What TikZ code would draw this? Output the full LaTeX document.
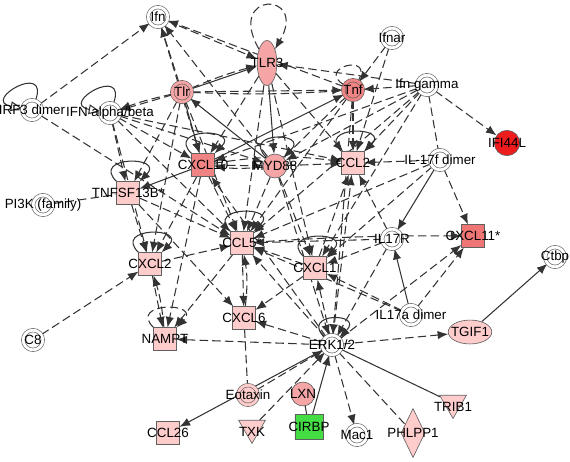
\documentclass[tikz,border=0pt]{standalone}
\usepackage{fontspec}
\setmainfont{Liberation Sans}
\usetikzlibrary{arrows.meta,positioning,shapes.geometric,shapes.misc,backgrounds}
\definecolor{pkLight}{HTML}{FFCCCC}
\definecolor{pkMid}{HTML}{F5A5A5}
\definecolor{pkDark}{HTML}{F08484}
\definecolor{pkRed}{HTML}{F07676}
\definecolor{hitRed}{HTML}{EE1C1C}
\definecolor{hitGreen}{HTML}{44DD44}
\definecolor{edgeGray}{HTML}{333333}

\begin{document}
\begin{tikzpicture}[x=0.025cm,y=0.025cm,
  >={Latex[length=7.5pt,width=6pt]},
  lbl/.style={font=\fontsize{9.5}{10}\selectfont, inner sep=0pt},
  gene/.style={draw=gray!75!black, line width=0.45pt, inner sep=0pt},
  sq/.style={gene, rectangle, fill=pkLight, minimum size=16pt},
  cir/.style={gene, circle, fill=pkMid, minimum size=17pt},
  grp/.style={gene, circle, fill=white, double=white, double distance=2pt, minimum size=14pt},
  tri/.style={gene, regular polygon, regular polygon sides=3, shape border rotate=180, fill=pkLight, minimum size=22pt},
  da/.style={draw=edgeGray, line width=0.75pt, dash pattern=on 6pt off 3pt, ->},
  dl/.style={draw=edgeGray, line width=0.75pt, dash pattern=on 6pt off 3pt},
  sa/.style={draw=edgeGray, line width=0.75pt, ->},
  sl/.style={draw=edgeGray, line width=0.75pt},
  self/.style={out=135, in=45, distance=26pt},
  openloop/.style={draw=edgeGray, line width=0.75pt, -{Triangle[open, length=8pt, width=7pt, fill=white]}}
]
\useasboundingbox (0,0) rectangle (570,-461);

% molecules
\node[grp] (Ifn) at (158,-17) [label={[lbl]center:Ifn}] {};
\node[gene, ellipse, fill=pkMid, minimum width=14pt, minimum height=32pt] (TLR3) at (267,-63) [label={[lbl]center:TLR3}] {};
\node[grp] (Ifnar) at (392,-38) [label={[lbl]center:Ifnar}] {};
\node[grp] (IRF3) at (32,-110) [label={[lbl]center:IRF3 dimer}] {};
\node[grp] (IFNab) at (110,-113) [label={[lbl]center:IFN alpha/beta}] {};
\node[grp, fill=pkMid, double=pkMid] (Tlr) at (182,-92) [label={[lbl]center:Tlr}] {};
\node[grp, fill=pkDark, double=pkDark] (Tnf) at (353,-90) [label={[lbl]center:Tnf}] {};
\node[grp] (IfnG) at (427,-85) [label={[lbl]center:Ifn gamma}] {};
\node[gene, circle, fill=hitRed, minimum size=18pt] (IFI44L) at (507,-143) [label={[lbl]center:IFI44L}] {};
\node[sq, fill=pkDark] (CXCL10) at (203,-165) [label={[lbl]center:CXCL10}] {};
\node[cir] (MYD88) at (275,-166) [label={[lbl]center:MYD88}] {};
\node[sq] (CCL2) at (353,-163) [label={[lbl]center:CCL2}] {};
\node[grp] (IL17f) at (440,-160) [label={[lbl]center:IL-17f dimer}] {};
\node[sq] (TNFSF13B) at (128,-193) [label={[lbl]center:TNFSF13B*}] {};
\node[grp] (PI3K) at (43,-205) [label={[lbl]center:PI3K (family)}] {};
\node[sq] (CCL5) at (242,-243) [label={[lbl]center:CCL5*}] {};
\node[grp] (IL17R) at (392,-239) [label={[lbl]center:IL17R}] {};
\node[sq, fill=pkRed] (CXCL11) at (473,-236) [label={[lbl]center:CXCL11*}] {};
\node[sq] (CXCL2) at (150,-264) [label={[lbl]center:CXCL2}] {};
\node[sq] (CXCL1) at (315,-268) [label={[lbl]center:CXCL1}] {};
\node[grp] (Ctbp) at (555,-257) [label={[lbl]center:Ctbp}] {};
\node[grp] (IL17a) at (411,-315) [label={[lbl]center:IL17a dimer}] {};
\node[gene, ellipse, fill=pkLight, minimum width=31pt, minimum height=17pt] (TGIF1) at (470,-332) [label={[lbl]center:TGIF1}] {};
\node[grp] (C8) at (33,-340) [label={[lbl]center:C8}] {};
\node[sq] (NAMPT) at (165,-339) [label={[lbl]center:NAMPT}] {};
\node[sq] (CXCL6) at (244,-318) [label={[lbl]center:CXCL6}] {};
\node[grp] (ERK) at (332,-345) [label={[lbl]center:ERK1/2}] {};
\node[grp, fill=pkLight, double=pkLight] (Eotaxin) at (248,-395) [label={[lbl]center:Eotaxin}] {};
\node[cir] (LXN) at (303,-394) [label={[lbl]center:LXN}] {};
\node[gene, chamfered rectangle, chamfered rectangle xsep=2pt, fill=hitGreen, minimum width=20pt, minimum height=18pt] (CIRBP) at (309,-427) [label={[lbl]center:CIRBP}] {};
\node[tri] (TXK) at (252,-428) [label={[lbl,yshift=-3pt]center:TXK}] {};
\node[grp] (Mac1) at (357,-435) [label={[lbl]center:Mac1}] {};
\node[gene, diamond, fill=pkLight, minimum width=17pt, minimum height=35pt] (PHLPP1) at (413,-433) [label={[lbl]center:PHLPP1}] {};
\node[tri] (TRIB1) at (453,-403) [label={[lbl,yshift=-3pt]center:TRIB1}] {};
\node[sq] (CCL26) at (168,-433) [label={[lbl]center:CCL26}] {};

\begin{scope}[on background layer]
% self loops
\draw[openloop] (IRF3) to[out=70, in=170, distance=30pt] (IRF3);
\draw[openloop] (IFNab) to[out=70, in=170, distance=30pt] (IFNab);
\draw[da] (TLR3) to[out=120, in=60, distance=48pt] (TLR3);
\draw[dl] (Tnf) to[out=150, in=60, distance=24pt] (Tnf);
\foreach \n in {CXCL10,MYD88,CCL2,TNFSF13B,CCL5,CXCL2,CXCL1,ERK}
  \draw[sa] (\n) to[self] (\n);
\draw[da] (NAMPT) to[self] (NAMPT);
% top part
\draw[da] (IRF3) -- (Ifn);
\draw[da] (Tlr) -- (Ifn);
\draw[da] (Tnf) -- (Ifn);
\draw[da] (MYD88) -- (Ifn);
\draw[da] (Ifn) -- (TLR3);
\draw[da] (Ifn) -- (CXCL10);
\draw[sa] (Tlr) -- (TLR3);
\draw[da] (Tlr) to[bend left=4] (TLR3);
\draw[sa] (TLR3) -- (MYD88);
\draw[da] (TLR3) -- (CXCL10);
\draw[da] (TLR3) -- (CCL5);
\draw[da] (TLR3) -- (CXCL1);
\draw[da] (TLR3) -- (CCL2);
\draw[da] (IfnG) -- (TLR3);
\draw[da] (Tlr) -- (Tnf);
\draw[dl] (Tlr) to[bend right=3] (Tnf);
\draw[da] (IfnG) -- (Tnf);
\draw[da] (Ifnar) -- (Tnf);
\draw[da] (Ifnar) -- (CCL2);
\draw[da] (IfnG) -- (IFI44L);
\draw[dl] (IfnG) -- (IL17f);
\draw[da] (IfnG) -- (CCL2);
\draw[da] (IfnG) -- (MYD88);
\draw[da] (IfnG) -- (CXCL10);
\draw[da] (IfnG) -- (CCL5);
\draw[da] (IfnG) -- (CXCL1);
\draw[da] (Tnf) -- (CCL2);
\draw[sa] (CXCL10) -- (Tnf);
\draw[da] (Tnf) -- (CCL5);
\draw[da] (Tnf) -- (MYD88);
\draw[da] (Tnf) -- (ERK);
\draw[da] (Tlr) -- (IFNab);
\draw[da] (Tlr) to[bend right=4] (IFNab);
\draw[sa] (MYD88) -- (Tlr);
\draw[sa] (Tlr) -- (CXCL10);
\draw[da] (Tlr) -- (TNFSF13B);
\draw[da] (Tlr) -- (CXCL2);
\draw[da] (Tlr) -- (CCL5);
% middle part
\draw[da] (IFNab) -- (TNFSF13B);
\draw[da] (IFNab) -- (CXCL2);
\draw[da] (IFNab) -- (CXCL10);
\draw[da] (IFNab) -- (MYD88);
\draw[da] (IFNab) -- (CCL5);
\draw[da] (IFNab) -- (CCL2);
\draw[da] (IRF3) -- (CCL5);
\draw[dl] (PI3K) -- (TNFSF13B);
\draw[sa] (CXCL10) -- (TNFSF13B);
\draw[da] (CXCL10) -- (MYD88);
\draw[da] (MYD88) to[bend left=6] (CXCL10);
\draw[da] (MYD88) -- (CCL2);
\draw[da] (CXCL10) to[bend left=8] (CCL2);
\draw[da] (CXCL10) -- (CCL5);
\draw[da] (CXCL10) -- (CXCL2);
\draw[da] (CXCL10) -- (NAMPT);
\draw[da] (MYD88) -- (CCL5);
\draw[da] (MYD88) -- (CXCL1);
\draw[da] (MYD88) -- (ERK);
\draw[da] (IL17f) -- (CCL2);
\draw[da] (IL17R) -- (CCL2);
\draw[da] (CXCL1) -- (CCL2);
\draw[da] (ERK) -- (CCL2);
\draw[sa] (IL17f) -- (IL17R);
\draw[da] (IL17f) -- (CXCL11);
\draw[da] (IL17f) -- (CCL5);
\draw[da] (IL17f) -- (CXCL1);
\draw[da] (IL17R) -- (CCL5);
\draw[da] (CCL5) to[bend left=2] (CXCL11);
\draw[da] (IL17R) -- (CXCL1);
\draw[da] (IL17R) -- (ERK);
\draw[sa] (IL17a) -- (IL17R);
\draw[da] (IL17a) -- (CXCL11);
\draw[da] (IL17a) -- (CXCL1);
\draw[da] (IL17a) -- (CCL5);
\draw[da] (ERK) -- (CXCL11);
\draw[da] (TNFSF13B) -- (CXCL2);
\draw[da] (TNFSF13B) -- (CXCL6);
\draw[da] (TNFSF13B) -- (CCL5);
\draw[da] (CXCL2) -- (CCL5);
\draw[da] (CXCL2) -- (NAMPT);
\draw[da] (NAMPT) to[bend right=6] (CXCL2);
\draw[da] (C8) -- (CXCL2);
\draw[da] (CCL5) -- (CXCL6);
\draw[da] (CXCL6) to[bend right=8] (CCL5);
\draw[da] (CCL5) -- (NAMPT);
\draw[da] (CXCL1) -- (CXCL6);
\draw[da] (CXCL1) -- (CCL5);
% lower part
\draw[da] (ERK) -- (CCL5);
\draw[da] (ERK) -- (CXCL1);
\draw[da] (ERK) -- (CXCL10);
\draw[da] (ERK) -- (CXCL6);
\draw[da] (ERK) -- (NAMPT);
\draw[da] (ERK) -- (TGIF1);
\draw[da] (ERK) -- (Mac1);
\draw[dl] (ERK) -- (PHLPP1);
\draw[sl] (ERK) -- (TRIB1);
\draw[da] (TXK) -- (ERK);
\draw[sa] (CIRBP) -- (ERK);
\draw[sl] (LXN) -- (CIRBP);
\draw[da] (Eotaxin) -- (ERK);
\draw[sa] (ERK) -- (CCL26);
\draw[dl] (CXCL6) -- (Eotaxin);
\draw[sa] (TGIF1) -- (Ctbp);
\end{scope}
\end{tikzpicture}
\end{document}
